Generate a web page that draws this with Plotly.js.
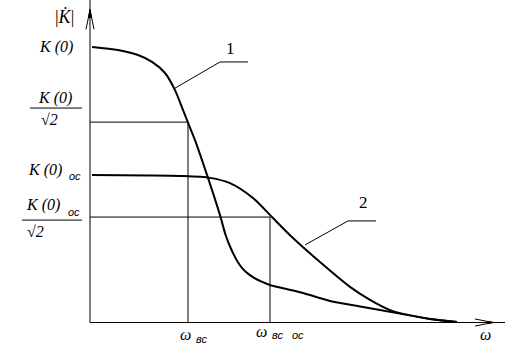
<!DOCTYPE html>
<html>
<head>
<meta charset="utf-8">
<script src="https://cdn.plot.ly/plotly-3.0.1.min.js"></script>
<style>html,body{margin:0;padding:0;background:#fff}#chart{width:521px;height:364px}</style>
</head>
<body>
<div id="chart"></div>
<script>
// ---- data (ω in arbitrary units, |K| relative to K(0)) ----
const omega1 = [0.05, 0.70, 1.20, 1.55, 1.875, 2.125, 2.325, 2.45, 2.625, 2.95, 3.25, 3.39, 3.52, 3.69, 3.81, 3.94, 4.125, 4.29, 4.5, 4.83, 5.325, 6.0, 6.825, 7.675, 8.5, 9.175];
const k1     = [0.998, 0.987, 0.969, 0.944, 0.904, 0.842, 0.770, 0.724, 0.661, 0.524, 0.389, 0.317, 0.269, 0.220, 0.196, 0.178, 0.160, 0.148, 0.136, 0.124, 0.107, 0.078, 0.056, 0.034, 0.013, 0.002];
const omega2 = [0.05, 1.5, 2.25, 3.0, 3.5, 4.075, 4.55, 5.075, 5.75, 6.5, 7.0, 7.5, 7.75, 8.5, 9.175];
const k2     = [0.534, 0.533, 0.531, 0.524, 0.505, 0.451, 0.382, 0.306, 0.219, 0.129, 0.082, 0.045, 0.034, 0.013, 0.002];

const K0 = 0.998, K0r2 = 0.726;     // K(0), K(0)/√2
const Koc = 0.534, Kocr2 = 0.382;   // K(0)ос, K(0)ос/√2
const wVs = 2.45, wVsOc = 4.5;      // ω вс, ω вс ос

const yTickMain = ['<i>K (0)</i>', '<i>K (0)</i>'];
const ySubs = ['<i>ос</i>'];
const xTickMain = ['<i>ω</i>', '<i>ω</i>', '<i>ω</i>'];
const xSubs = ['<i>вс</i>', '<i>вс</i>', '<i>ос</i>'];
const curveLabels = ['1', '2'];

const black = '#000';
const traces = [
  {x: omega1, y: k1, mode: 'lines', line: {color: black, width: 2, shape: 'spline', smoothing: 0.7}},
  {x: omega2, y: k2, mode: 'lines', line: {color: black, width: 2, shape: 'spline', smoothing: 0.8}},
  {x: [0, wVs, wVs], y: [K0r2, K0r2, 0], mode: 'lines', line: {color: black, width: 1}},
  {x: [0, wVsOc, wVsOc], y: [Kocr2, Kocr2, 0], mode: 'lines', line: {color: black, width: 1}}
];

const serif = {family: 'Liberation Serif, Times New Roman, serif', size: 16, color: black};
const sans = {family: 'Liberation Sans, Arial, sans-serif', size: 11, color: black};
const big = {family: 'Liberation Serif, Times New Roman, serif', size: 18, color: black};
const num = {family: 'Liberation Serif, serif', size: 17, color: black};
function ann(text, x, y, xa, font) {
  return {text: text, x: x, y: y, xref: 'x', yref: 'y', xanchor: xa || 'center', yanchor: 'middle',
          showarrow: false, font: font || serif};
}
const annotations = [
  ann('|<i>K\u0307</i>|', -0.65, 1.108, 'center', big),
  ann(yTickMain[0], -0.375, K0, 'right'),
  // K(0)/√2
  ann(yTickMain[0], -0.875, 0.812),
  ann('√<i>2</i>', -1.025, 0.734),
  // K(0)ос
  ann(yTickMain[1], -0.65, Koc + 0.02, 'right'),
  ann(ySubs[0], -0.175, Koc - 0.005, 'right', sans),
  // K(0)ос/√2
  ann(yTickMain[1], -0.7, 0.424, 'right'),
  ann(ySubs[0], -0.2, 0.400, 'right', sans),
  ann('√<i>2</i>', -1.375, 0.331),
  // x labels
  ann(xTickMain[0], 2.375, -0.042),
  ann(xSubs[0], 2.79, -0.060, 'center', sans),
  ann(xTickMain[1], 4.275, -0.031),
  ann(xSubs[1], 4.69, -0.045, 'center', sans),
  ann(xSubs[2], 5.21, -0.045, 'center', sans),
  ann(xTickMain[2], 9.875, -0.042),
  // curve numbers
  ann(curveLabels[0], 3.5, 0.994, 'center', num),
  ann(curveLabels[1], 6.825, 0.433, 'center', num)
];

const ln = (x0, y0, x1, y1, w) => ({type: 'line', xref: 'x', yref: 'y', x0, y0, x1, y1, line: {color: black, width: w || 1}});
const pth = (p, fill) => ({type: 'path', xref: 'x', yref: 'y', path: p, line: {color: black, width: 1}, fillcolor: fill ? black : 'rgba(0,0,0,0)'});
const shapes = [
  ln(0, 0, 0, 1.17),           // y axis
  ln(0, 0, 10.375, 0),         // x axis
  pth('M -0.1,1.062 L 0,1.134 L 0.1,1.062'),
  pth('M -0.035,1.105 L 0,1.134 L 0.035,1.105 Z', true),
  pth('M 9.625,0.0127 L 10.075,0 L 9.625,-0.0127'),
  pth('M 9.95,0.004 L 10.075,0 L 9.95,-0.004 Z', true),
  ln(-1.5, 0.777, -0.2, 0.777),
  ln(-1.7, 0.371, -0.2, 0.371),
  // leader lines
  pth('M 2.125,0.849 L 3.25,0.944 L 3.95,0.944'),
  pth('M 5.375,0.281 L 6.45,0.368 L 7.15,0.368')
];

const layout = {
  width: 521, height: 364,
  margin: {l: 0, r: 0, t: 0, b: 0},
  paper_bgcolor: '#fff', plot_bgcolor: '#fff',
  showlegend: false,
  xaxis: {range: [-2.25, 10.775], visible: false, fixedrange: true},
  yaxis: {range: [-0.1504, 1.1685], visible: false, fixedrange: true},
  annotations: annotations,
  shapes: shapes
};
Plotly.newPlot('chart', traces, layout, {staticPlot: true, displayModeBar: false});
</script>
</body>
</html>
